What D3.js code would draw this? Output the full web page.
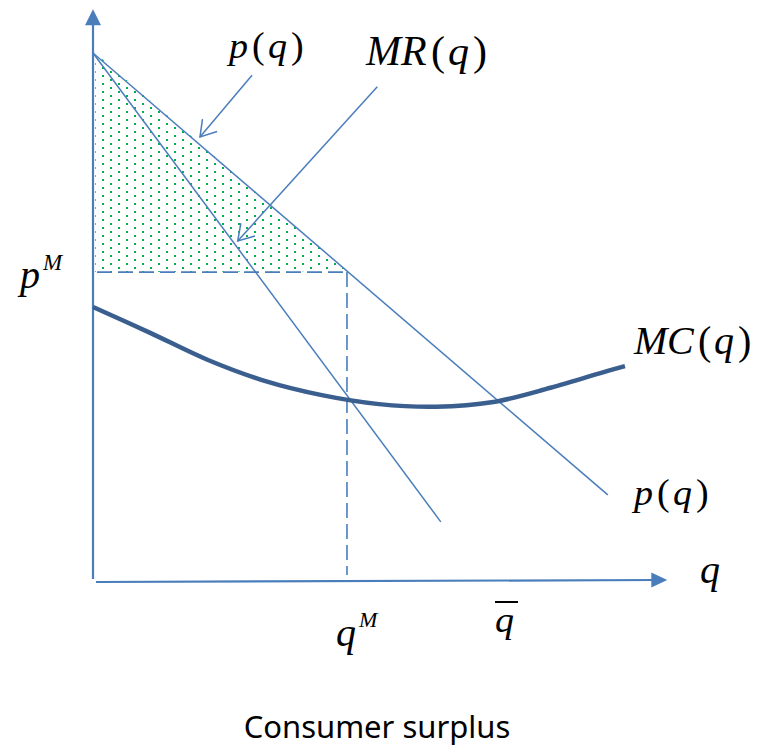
<!DOCTYPE html>
<html>
<head>
<meta charset="utf-8">
<script src="https://cdn.jsdelivr.net/npm/d3@7"></script>
<style>
  body { margin: 0; background: #fff; }
  @font-face {
    font-family: 'MathSerif';
    font-style: italic;
    src: local('Liberation Serif Italic'), local('LiberationSerif-Italic'),
         local('DejaVu Serif Italic'), local('DejaVuSerif-Italic'),
         local('Noto Serif Italic'), local('NotoSerif-Italic');
  }
  @font-face {
    font-family: 'MathSerif';
    font-style: normal;
    src: local('Liberation Serif'), local('LiberationSerif'),
         local('DejaVu Serif'), local('DejaVuSerif'),
         local('Noto Serif'), local('NotoSerif-Regular');
  }
</style>
</head>
<body>
<div id="chart"></div>
<script>
// monopoly diagram: quantity q on x, price p on y (arbitrary units 0..10)
let demand = [[0, 10], [9.0, 1.63]];
let marginalRevenue = [[0, 10], [6.08, 1.12]];
let mcQ = [0, 1, 2, 3, 4, 5, 6, 7, 8, 9, 9.3];
let mcP = [5.19, 4.70, 4.19, 3.79, 3.52, 3.35, 3.30, 3.39, 3.66, 3.98, 4.07];
let qM = 4.44;
let pM = 5.85;
let qBar = 7.22;
// annotation arrows [from, to]
let demandArrow = [[2.78, 9.58], [1.87, 8.41]];
let mrArrow = [[4.97, 9.36], [2.53, 6.44]];
let axisEnds = {q: 10.04, p: 10.83};

let width = 765;
let height = 752;
let blue = '#4a7ebb';
let darkBlue = '#3a5f8f';
let serif = "'MathSerif', 'Liberation Serif', 'DejaVu Serif', 'Noto Serif', 'Tinos', 'Times New Roman'";
// rough Times advance widths (em) used to lay out the math glyphs one by one
let advance = {p: 0.5, q: 0.5, M: 0.833, R: 0.611, C: 0.667, '(': 0.333, ')': 0.333};

let xScale = d3.scaleLinear().domain([0, 10]).range([93, 665]);
let yScale = d3.scaleLinear().domain([0, 10]).range([581, 53]);

let svg = d3.select('#chart')
    .append('svg')
    .attr('width', width)
    .attr('height', height);

// dotted fill for consumer surplus
let defs = svg.append('defs');
let pattern = defs.append('pattern')
    .attr('id', 'dots')
    .attr('patternUnits', 'userSpaceOnUse')
    .attr('x', 110).attr('y', 151)
    .attr('width', 16).attr('height', 8);
pattern.append('rect').attr('x', 0).attr('y', 0).attr('width', 2).attr('height', 2).attr('fill', '#00b050');
pattern.append('rect').attr('x', 8).attr('y', 4).attr('width', 2).attr('height', 2).attr('fill', '#00b050');

let line = d3.line().x(d => xScale(d[0])).y(d => yScale(d[1]));

// surplus triangle between the demand curve and p^M
let pAtQ = q => demand[0][1] + (demand[1][1] - demand[0][1]) * q / demand[1][0];
svg.append('path')
    .attr('d', line([[0.04, demand[0][1]], [qM, pAtQ(qM)], [0.04, pM]]) + 'Z')
    .attr('fill', 'url(#dots)');

// axes with filled arrowheads
function arrowHead(tip, dir, len, half) {
  let [dx, dy] = dir;
  let bx = tip[0] - dx * len, by = tip[1] - dy * len;
  return [[tip[0], tip[1]], [bx - dy * half, by + dx * half], [bx + dy * half, by - dx * half]];
}
let yTop = [xScale(0), yScale(axisEnds.p)];
svg.append('line')
    .attr('x1', xScale(0)).attr('y1', yScale(0) - 2)
    .attr('x2', xScale(0)).attr('y2', yTop[1] + 10)
    .attr('stroke', blue).attr('stroke-width', 2.2);
svg.append('polygon')
    .attr('points', arrowHead(yTop, [0, -1], 16, 8).join(' '))
    .attr('fill', blue);

let xRight = [xScale(axisEnds.q), yScale(0) - 1];
svg.append('line')
    .attr('x1', xScale(0) + 3).attr('y1', yScale(0) + 1)
    .attr('x2', xRight[0] - 10).attr('y2', xRight[1])
    .attr('stroke', blue).attr('stroke-width', 2.2);
svg.append('polygon')
    .attr('points', arrowHead(xRight, [1, 0], 16, 7.5).join(' '))
    .attr('fill', blue);

// dashed guides at the monopoly point
svg.append('line')
    .attr('x1', xScale(0) + 4).attr('y1', yScale(pM))
    .attr('x2', xScale(qM)).attr('y2', yScale(pM))
    .attr('stroke', blue).attr('stroke-width', 1.6)
    .attr('stroke-dasharray', '15,6');
svg.append('line')
    .attr('x1', xScale(qM)).attr('y1', yScale(pM))
    .attr('x2', xScale(qM)).attr('y2', yScale(0) - 6)
    .attr('stroke', blue).attr('stroke-width', 1.6)
    .attr('stroke-dasharray', '15,6');

// demand and marginal revenue
svg.append('path').attr('d', line(demand))
    .attr('fill', 'none').attr('stroke', blue).attr('stroke-width', 1.5);
svg.append('path').attr('d', line(marginalRevenue))
    .attr('fill', 'none').attr('stroke', blue).attr('stroke-width', 1.5);

// marginal cost curve
svg.append('path')
    .attr('d', line.curve(d3.curveCatmullRom)(d3.zip(mcQ, mcP)))
    .attr('fill', 'none').attr('stroke', darkBlue).attr('stroke-width', 4.5);
line.curve(d3.curveLinear);

// open-headed pointer arrows
function pointer(seg) {
  let a = [xScale(seg[0][0]), yScale(seg[0][1])];
  let b = [xScale(seg[1][0]), yScale(seg[1][1])];
  let ang = Math.atan2(a[1] - b[1], a[0] - b[0]);
  let wing = s => [b[0] + 18 * Math.cos(ang + s), b[1] + 18 * Math.sin(ang + s)];
  svg.append('line')
      .attr('x1', a[0]).attr('y1', a[1]).attr('x2', b[0]).attr('y2', b[1])
      .attr('stroke', blue).attr('stroke-width', 1.5);
  svg.append('polyline')
      .attr('points', [wing(0.56), b, wing(-0.56)].join(' '))
      .attr('fill', 'none').attr('stroke', blue).attr('stroke-width', 1.5);
}
pointer(demandArrow);
pointer(mrArrow);

// math labels: one text element per glyph, italic letters, upright parentheses
function mathLabel(x, y, size, parts) {
  let cx = x;
  parts.forEach(p => {
    cx += p[2] || 0;
    svg.append('text')
        .attr('x', cx).attr('y', y)
        .attr('font-size', size)
        .attr('font-style', p[1] ? 'italic' : 'normal')
        .style('font-family', serif)
        .text(p[0]);
    cx += advance[p[0]] * size;
  });
}
mathLabel(229, 58, 38, [['p', 1], ['(', 0, 4], ['q', 1, 3], [')', 0, 4]]);
mathLabel(366, 65, 42, [['M', 1], ['R', 1], ['(', 0, 4], ['q', 1, 3], [')', 0, 4]]);
mathLabel(634, 354, 40, [['M', 1], ['C', 1], ['(', 0, 4], ['q', 1, 3], [')', 0, 4]]);
mathLabel(634, 505, 38, [['p', 1], ['(', 0, 4], ['q', 1, 3], [')', 0, 4]]);
mathLabel(700, 583, 40, [['q', 1]]);

// tick-like labels
mathLabel(xScale(0) - 73, yScale(pM) + 16, 40, [['p', 1]]);
mathLabel(xScale(0) - 50, yScale(pM) - 2, 23, [['M', 1]]);
mathLabel(xScale(qM) - 11, 646, 40, [['q', 1]]);
mathLabel(xScale(qM) + 12, 627, 22, [['M', 1]]);
mathLabel(xScale(qBar) - 11, 632, 38, [['q', 1]]);
svg.append('line')
    .attr('x1', xScale(qBar) - 11).attr('y1', 602)
    .attr('x2', xScale(qBar) + 12).attr('y2', 602)
    .attr('stroke', '#000').attr('stroke-width', 2);

svg.append('text')
    .style('font-family', "'Noto Sans', 'Open Sans', sans-serif")
    .attr('x', 377).attr('y', 738)
    .attr('text-anchor', 'middle')
    .attr('font-size', 31)
    .text('Consumer surplus');
</script>
</body>
</html>
